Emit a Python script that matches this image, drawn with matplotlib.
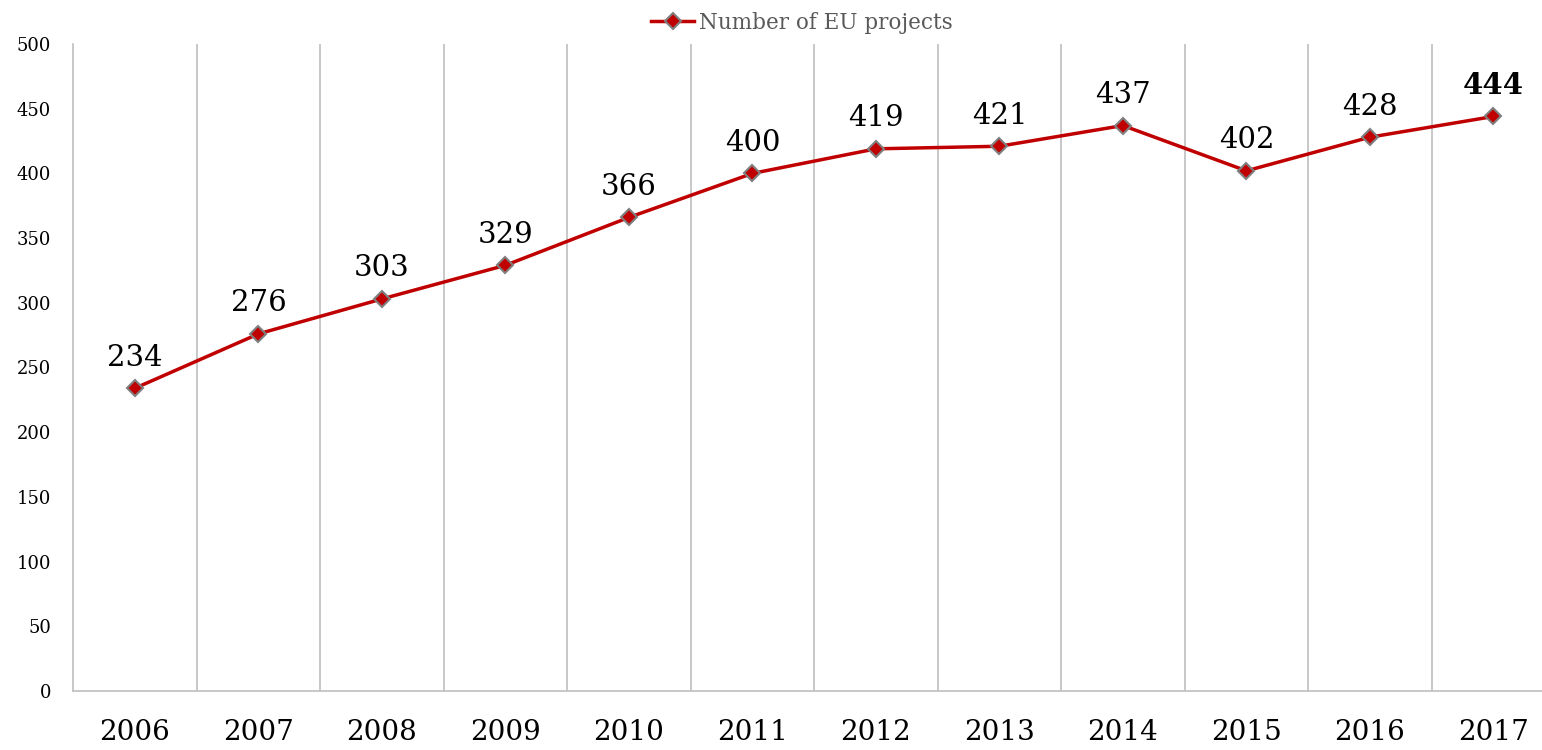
import matplotlib

matplotlib.use("Agg")
import matplotlib.pyplot as plt

years = ["2006", "2007", "2008", "2009", "2010", "2011",
         "2012", "2013", "2014", "2015", "2016", "2017"]
projects = [234, 276, 303, 329, 366, 400, 419, 421, 437, 402, 428, 444]

RED = "#C00000"
GRID = "#BFBFBF"

plt.rcParams["font.family"] = ["DejaVu Serif", "Liberation Serif"]

fig = plt.figure(figsize=(15.42, 7.5), dpi=100)
ax = fig.add_axes([0.0475, 0.0787, 0.961, 0.8626])

xs = list(range(len(years)))
ax.plot(xs, projects, "-", color=RED, lw=2.5, marker="D", markersize=8,
        markerfacecolor=RED, markeredgecolor="#7F7F7F", markeredgewidth=1.5,
        label="Number of EU projects", zorder=3)

for i, v in enumerate(projects):
    bold = i == len(projects) - 1
    ax.annotate(str(v), (i, v), xytext=(0, 12), textcoords="offset points",
                ha="center", va="bottom", fontsize=21,
                fontweight="bold" if bold else "normal", color="black")

# vertical separators between categories
for b in range(1, len(years)):
    ax.axvline(b - 0.5, color=GRID, lw=1.2, zorder=1)

ax.set_xlim(-0.5, len(years) - 0.5)
ax.set_ylim(0, 500)
ax.set_yticks(range(0, 501, 50))
ax.set_xticks(xs)
ax.set_xticklabels(years)
ax.tick_params(axis="x", length=0, labelsize=20, pad=20)
ax.tick_params(axis="y", length=0, labelsize=13, pad=16, colors="black")

for s in ["top", "right"]:
    ax.spines[s].set_visible(False)
for s in ["left", "bottom"]:
    ax.spines[s].set_color(GRID)
    ax.spines[s].set_linewidth(1.2)

leg = fig.legend(loc="upper center", bbox_to_anchor=(0.52, 1.01), frameon=False,
                 fontsize=15.5, handlelength=2, handletextpad=0.2)
for t in leg.get_texts():
    t.set_color("#595959")

fig.savefig("out.png", dpi=100)
